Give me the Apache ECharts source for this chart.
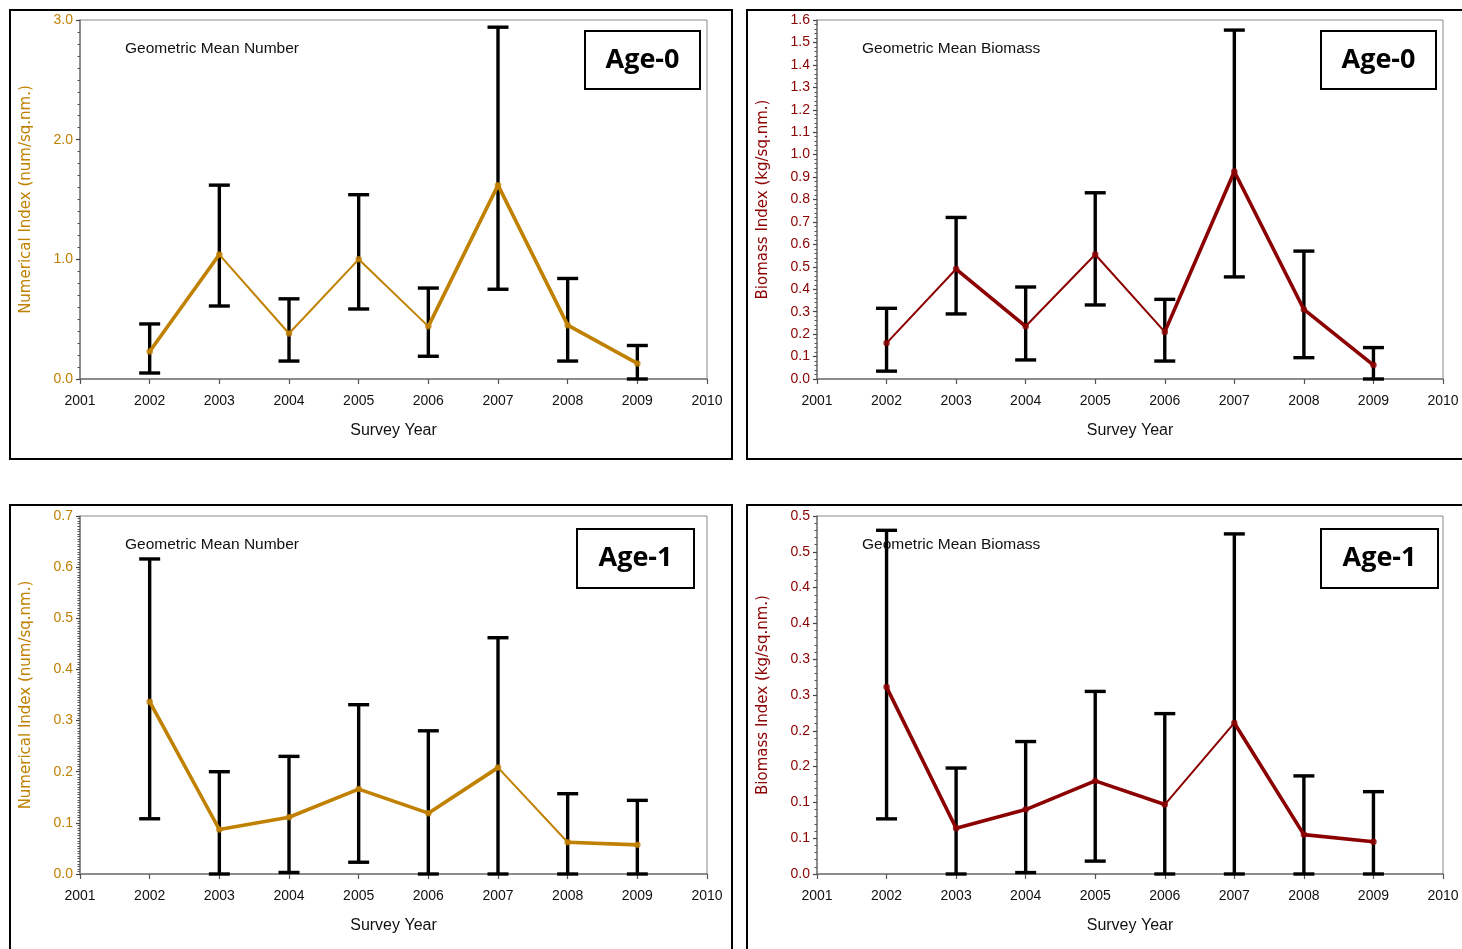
<!DOCTYPE html>
<html>
<head>
<meta charset="utf-8">
<title>Geometric Mean Number and Biomass by Survey Year</title>
<script src="https://cdn.jsdelivr.net/npm/echarts@6/dist/echarts.min.js"></script>
<style>
  html, body { margin: 0; padding: 0; background: #ffffff; }
  #chart { width: 1462px; height: 949px; }
</style>
</head>
<body>
<div id="chart"></div>
<script>
// Survey years shown on every panel
const years = [2002, 2003, 2004, 2005, 2006, 2007, 2008, 2009];
const xTickMin = 2001;
const xTickMax = 2010;

// Age-0 numerical index (num/sq.nm.): geometric mean with lower / upper limits
const num0Mean  = [0.23, 1.04, 0.38, 1.00, 0.44, 1.62, 0.45, 0.13];
const num0Lower = [0.05, 0.61, 0.15, 0.585, 0.19, 0.75, 0.15, 0.00];
const num0Upper = [0.46, 1.62, 0.67, 1.54, 0.76, 2.94, 0.84, 0.28];

// Age-0 biomass index (kg/sq.nm.)
const bio0Mean  = [0.16, 0.49, 0.235, 0.555, 0.21, 0.925, 0.31, 0.062];
const bio0Lower = [0.035, 0.29, 0.085, 0.33, 0.08, 0.455, 0.095, 0.00];
const bio0Upper = [0.315, 0.72, 0.41, 0.83, 0.355, 1.555, 0.57, 0.14];

// Age-1 numerical index (num/sq.nm.)
const num1Mean  = [0.337, 0.087, 0.111, 0.166, 0.119, 0.208, 0.062, 0.057];
const num1Lower = [0.108, 0.00, 0.003, 0.023, 0.00, 0.00, 0.00, 0.00];
const num1Upper = [0.616, 0.20, 0.23, 0.331, 0.28, 0.462, 0.157, 0.144];

// Age-1 biomass index (kg/sq.nm.)
const bio1Mean  = [0.261, 0.064, 0.090, 0.130, 0.097, 0.211, 0.055, 0.045];
const bio1Lower = [0.077, 0.00, 0.002, 0.018, 0.00, 0.00, 0.00, 0.00];
const bio1Upper = [0.480, 0.148, 0.185, 0.255, 0.224, 0.475, 0.137, 0.115];

// Tick labels for the Age-1 biomass axis (0.05 steps printed with one decimal)
const bio1TickLabels = ['0.0', '0.1', '0.1', '0.2', '0.2', '0.3', '0.3', '0.4', '0.4', '0.5', '0.5'];

// Text
const numTitle = 'Geometric Mean Number';
const bioTitle = 'Geometric Mean Biomass';
const numAxisName = 'Numerical Index (num/sq.nm.)';
const bioAxisName = 'Biomass Index (kg/sq.nm.)';
const xAxisName = 'Survey Year';
const ageLabels = ['Age-0', 'Age-0', 'Age-1', 'Age-1'];

// Styling
const GOLD = '#C08000';
const DARKRED = '#8B0000';
const FONT = '"Liberation Sans", Arial, sans-serif';
const NAME_FONT = '"DejaVu Sans", Verdana, sans-serif';
const THICK = 3.6, THIN = 2;

const panels = [
  { mean: num0Mean, lower: num0Lower, upper: num0Upper, color: GOLD, max: 3.0, interval: 1.0, minor: 10,
    name: numAxisName, title: numTitle, fmt: v => v.toFixed(1),
    widths: [THICK, THIN, THIN, THIN, THICK, THICK, THICK],
    grid: { left: 80, top: 20, width: 627, height: 359 }, frame: [10, 10, 722, 449],
    age: [585, 31, 115, 58] },
  { mean: bio0Mean, lower: bio0Lower, upper: bio0Upper, color: DARKRED, max: 1.6, interval: 0.1, minor: 5,
    name: bioAxisName, title: bioTitle, fmt: v => v.toFixed(1),
    widths: [THIN, THICK, THIN, THIN, THICK, THICK, THICK],
    grid: { left: 817, top: 20, width: 626, height: 359 }, frame: [747, 10, 730, 449],
    age: [1321, 31, 115, 58] },
  { mean: num1Mean, lower: num1Lower, upper: num1Upper, color: GOLD, max: 0.7, interval: 0.1, minor: 20,
    name: numAxisName, title: numTitle, fmt: v => v.toFixed(1),
    widths: [THICK, THICK, THICK, THICK, THICK, THIN, THICK],
    grid: { left: 80, top: 516, width: 627, height: 358 }, frame: [10, 505, 722, 460],
    age: [577, 529, 117, 59] },
  { mean: bio1Mean, lower: bio1Lower, upper: bio1Upper, color: DARKRED, max: 0.5, interval: 0.05, minor: 5,
    name: bioAxisName, title: bioTitle, fmt: v => bio1TickLabels[Math.round(v / 0.05)],
    widths: [THICK, THICK, THICK, THICK, THIN, THICK, THICK],
    grid: { left: 817, top: 516, width: 626, height: 358 }, frame: [747, 505, 730, 460],
    age: [1321, 529, 117, 59] }
];

const grids = [], xAxes = [], yAxes = [], series = [], graphics = [];

panels.forEach((p, i) => {
  grids.push(Object.assign({ show: true, borderColor: '#8a8a8a', borderWidth: 1, backgroundColor: 'transparent' }, p.grid));

  xAxes.push({
    gridIndex: i, type: 'value', min: xTickMin, max: xTickMax, interval: 1,
    name: xAxisName, nameLocation: 'middle', nameGap: 44,
    nameTextStyle: { color: '#111', fontFamily: FONT, fontSize: 16 },
    axisLine: { show: true, lineStyle: { color: '#7a7a7a', width: 1.5 } },
    axisTick: { show: true, length: 5, lineStyle: { color: '#555', width: 1.2 } },
    axisLabel: { color: '#111', fontFamily: FONT, fontSize: 14, margin: 15, formatter: v => String(v) },
    splitLine: { show: false }
  });

  yAxes.push({
    gridIndex: i, type: 'value', min: 0, max: p.max, interval: p.interval,
    name: p.name, nameLocation: 'middle', nameGap: 46, nameRotate: 90,
    nameTextStyle: { color: p.color, fontFamily: NAME_FONT, fontSize: 15 },
    axisLine: { show: true, lineStyle: { color: '#7a7a7a', width: 1.5 } },
    axisTick: { show: true, length: 4, lineStyle: { color: '#444', width: 1.2 } },
    minorTick: { show: true, splitNumber: p.minor, length: 2.5, lineStyle: { color: '#555', width: 1 } },
    axisLabel: { color: p.color, fontFamily: FONT, fontSize: 14, margin: 7, formatter: p.fmt },
    splitLine: { show: false }
  });

  // Error bars: vertical whisker with caps at both limits
  series.push({
    type: 'custom', xAxisIndex: i, yAxisIndex: i, z: 2, clip: false,
    data: years.map((y, k) => [y, p.lower[k], p.upper[k]]),
    renderItem: (params, api) => {
      const lo = api.coord([api.value(0), api.value(1)]);
      const hi = api.coord([api.value(0), api.value(2)]);
      const half = 10.5;
      const st = { stroke: '#000', lineWidth: 3.4, lineCap: 'butt' };
      return {
        type: 'group',
        children: [
          { type: 'line', shape: { x1: lo[0], y1: lo[1], x2: hi[0], y2: hi[1] }, style: st },
          { type: 'line', shape: { x1: hi[0] - half, y1: hi[1], x2: hi[0] + half, y2: hi[1] }, style: st },
          { type: 'line', shape: { x1: lo[0] - half, y1: lo[1], x2: lo[0] + half, y2: lo[1] }, style: st }
        ]
      };
    }
  });

  // Connecting line between consecutive means
  const segs = [];
  for (let k = 0; k < years.length - 1; k++) {
    segs.push([years[k], p.mean[k], years[k + 1], p.mean[k + 1], k]);
  }
  series.push({
    type: 'custom', xAxisIndex: i, yAxisIndex: i, z: 3, clip: false,
    data: segs,
    renderItem: (params, api) => {
      const a = api.coord([api.value(0), api.value(1)]);
      const b = api.coord([api.value(2), api.value(3)]);
      return {
        type: 'line',
        shape: { x1: a[0], y1: a[1], x2: b[0], y2: b[1] },
        style: { stroke: p.color, lineWidth: p.widths[api.value(4)], lineCap: 'round' }
      };
    }
  });

  // Mean markers
  series.push({
    type: 'scatter', xAxisIndex: i, yAxisIndex: i, z: 4,
    symbol: 'circle', symbolSize: 6.5,
    itemStyle: { color: p.color },
    data: years.map((y, k) => [y, p.mean[k]])
  });

  // Panel frame
  graphics.push({
    type: 'rect', shape: { x: p.frame[0], y: p.frame[1], width: p.frame[2], height: p.frame[3] },
    style: { fill: 'none', stroke: '#000', lineWidth: 2 }, z: 1
  });

  // Panel heading inside the plot
  graphics.push({
    type: 'text', x: p.grid.left + 45, y: p.grid.top + 29,
    style: { text: p.title, fill: '#111', font: '15.5px ' + FONT, textVerticalAlign: 'middle' }, z: 5
  });

  // Age box
  graphics.push({
    type: 'group', z: 6,
    children: [
      { type: 'rect', shape: { x: p.age[0], y: p.age[1], width: p.age[2], height: p.age[3] },
        style: { fill: '#fff', stroke: '#000', lineWidth: 2 } },
      { type: 'text', x: p.age[0] + p.age[2] / 2, y: p.age[1] + p.age[3] / 2,
        style: { text: ageLabels[i], fill: '#000', font: 'bold 27px "Open Sans", Lato, sans-serif',
                 textAlign: 'center', textVerticalAlign: 'middle' } }
    ]
  });
});

const chart = echarts.init(document.getElementById('chart'), null, { renderer: 'canvas' });
chart.setOption({
  animation: false,
  backgroundColor: '#ffffff',
  grid: grids,
  xAxis: xAxes,
  yAxis: yAxes,
  series: series,
  graphic: graphics
});
</script>
</body>
</html>
